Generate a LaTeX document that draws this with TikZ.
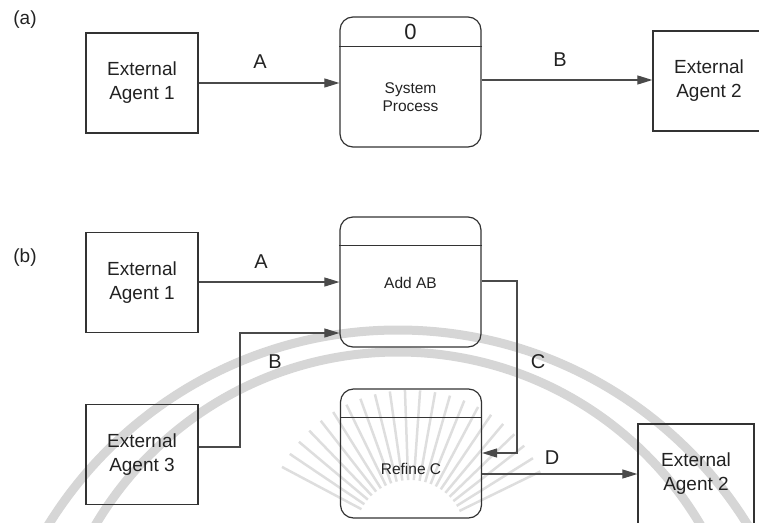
\documentclass[tikz,border=0pt]{standalone}
\usepackage{fontspec}
\setmainfont{Liberation Sans}
\usetikzlibrary{arrows.meta,calc}

\definecolor{inkline}{HTML}{333333}
\definecolor{flowline}{HTML}{4A4A4A}
\definecolor{inktext}{HTML}{222222}
\definecolor{wmark}{HTML}{D6D6D6}

\tikzset{
  agent/.style={draw=inkline, line width=1.3pt, minimum width=112pt, minimum height=100pt,
    inner sep=0pt, align=center, text=inktext, font=\fontsize{19}{24}\selectfont},
  proc/.style={draw=inkline, line width=1.2pt, rounded corners=13pt, minimum width=141pt,
    minimum height=130pt, inner sep=0pt},
  proctext/.style={align=center, text=inktext, inner sep=0pt, font=\fontsize{15.5}{18}\selectfont},
  procid/.style={text=inktext, inner sep=0pt, font=\fontsize{22}{24}\selectfont},
  flowlabel/.style={text=inktext, inner sep=0pt, font=\fontsize{20}{22}\selectfont},
  partlabel/.style={text=inktext, inner sep=0pt, font=\fontsize{19}{22}\selectfont},
  flow/.style={draw=flowline, line width=1.1pt, -{Triangle[length=15pt,width=9pt]}},
  divider/.style={draw=inkline, line width=1.1pt},
  wband/.style={draw=wmark, line width=9pt},
  wray/.style={draw=wmark!80!white, line width=2.5pt},
}

\begin{document}
\begin{tikzpicture}[x=1pt,y=-1pt]
\useasboundingbox (0,0) rectangle (759,522);
\clip (0,0) rectangle (759,522);

% faint seal in the background
\draw[wband] (398,741) circle[radius=411];
\draw[wband] (398,703) circle[radius=351];
\coordinate (sun) at (410,535);
\foreach \a in {26,32,...,154}
  \draw[wray] ($(sun)+(-\a:55)$) -- ($(sun)+(-\a:145)$);

% ---------- (a) context diagram ----------
\node[partlabel] (la) at (25,20) {(a)};

\node[agent] (ea1) at (142,83) {External\\Agent 1};
\node[proc] (sp) at (410.5,82) {};
\draw[divider] ($(sp.north west)+(0,30)$) -- ($(sp.north east)+(0,30)$);
\node[procid] (spid) at ($(sp.north)+(0,16)$) {0};
\node[proctext] (spt) at ($(sp.south)+(0,-50)$) {System\\Process};
\node[agent] (ea2) at (709,81) {External\\Agent 2};

\draw[flow] (ea1.east |- 0,83) -- (sp.west |- 0,83);
\draw[flow] (sp.east |- 0,80) -- (ea2.west |- 0,80);
\node[flowlabel] (fa) at (260,62) {A};
\node[flowlabel] (fb) at (560,60) {B};

% ---------- (b) level-1 diagram ----------
\node[partlabel] (lb) at (25,258) {(b)};

\node[agent] (eb1) at (142,282.5) {External\\Agent 1};
\node[agent] (eb3) at (142,454.5) {External\\Agent 3};
\node[agent, minimum width=116pt] (eb2) at (696,474) {External\\Agent 2};

\node[proc] (add) at (410.5,282) {};
\draw[divider] ($(add.north west)+(0,29)$) -- ($(add.north east)+(0,29)$);
\node[proctext] (addt) at ($(add.south)+(0,-65)$) {Add AB};

\node[proc, minimum height=129pt] (ref) at (411,453.5) {};
\draw[divider] ($(ref.north west)+(0,29)$) -- ($(ref.north east)+(0,29)$);
\node[proctext] (reft) at ($(ref.south)+(0,-50)$) {Refine C};

\coordinate (bturn) at (240,447);
\coordinate (cturn) at (517,281);

\draw[flow] (eb1.east |- 0,282) -- (add.west |- 0,282);
\draw[flow] (eb3.east |- bturn) -- (bturn) -- (bturn |- 0,333) -- (add.west |- 0,333);
\draw[flow] (add.east |- cturn) -- (cturn) -- (cturn |- 0,453) -- (ref.east |- 0,453);
\draw[flow] (ref.east |- 0,474) -- (eb2.west |- 0,474);

\node[flowlabel] (ba) at (261,262) {A};
\node[flowlabel] (bb) at (275,362) {B};
\node[flowlabel] (bc) at (538,362) {C};
\node[flowlabel] (bd) at (552,458) {D};
\end{tikzpicture}
\end{document}
